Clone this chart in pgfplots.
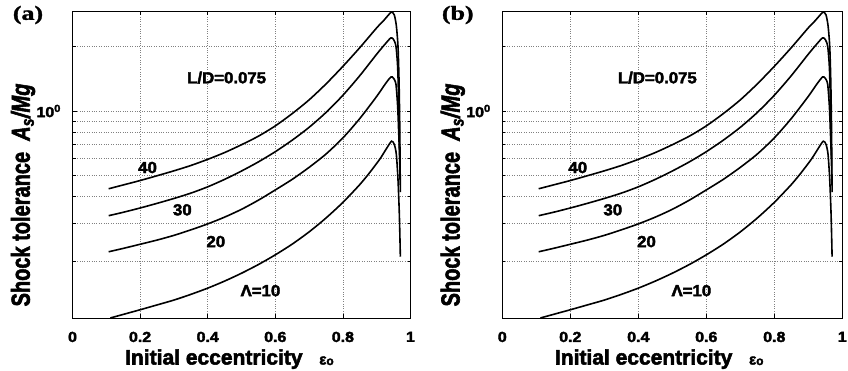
\documentclass[border=0pt]{standalone}
\usepackage{fontspec}
\setmainfont{Liberation Sans}
\newfontfamily\hv{Liberation Sans Bold}[FakeBold=2.5]
\newfontfamily\hvi{Liberation Sans Bold Italic}[FakeBold=2.5]
\newfontfamily\serifb{Liberation Serif Bold}[FakeBold=1.2]
\usepackage{graphicx}
\usepackage{pgfplots}
\usepackage{pgfplotstable}
\pgfplotsset{compat=1.18}

\pgfplotstableread{
x y
0.107 0.435
0.15 0.453
0.2 0.475
0.25 0.500
0.3 0.527
0.35 0.558
0.4 0.596
0.45 0.641
0.5 0.697
0.55 0.764
0.6 0.853
0.65 0.973
0.7 1.127
0.75 1.337
0.8 1.614
0.85 1.972
0.9 2.438
0.92 2.63
0.935 2.80
0.944 2.89
0.952 2.80
0.958 2.50
0.963 2.0
0.966 1.4
0.968 0.9
0.970 0.42
}\curveF

\pgfplotstableread{
x y
0.107 0.326
0.15 0.338
0.2 0.354
0.25 0.372
0.3 0.392
0.35 0.415
0.4 0.444
0.45 0.481
0.5 0.526
0.55 0.580
0.6 0.647
0.65 0.732
0.7 0.840
0.75 0.985
0.8 1.184
0.85 1.461
0.9 1.839
0.925 2.05
0.942 2.19
0.950 2.15
0.957 2.0
0.962 1.6
0.965 1.1
0.967 0.75
0.969 0.48
}\curveT

\pgfplotstableread{
x y
0.107 0.2215
0.15 0.2296
0.2 0.240
0.25 0.251
0.3 0.264
0.35 0.280
0.4 0.2985
0.45 0.321
0.5 0.349
0.55 0.385
0.6 0.4295
0.65 0.481
0.7 0.547
0.75 0.631
0.8 0.750
0.85 0.923
0.9 1.17
0.925 1.334
0.942 1.44
0.950 1.42
0.957 1.33
0.962 1.05
0.965 0.80
0.968 0.60
}\curveW

\pgfplotstableread{
x y
0.112 0.1090
0.15 0.1132
0.2 0.119
0.25 0.1253
0.3 0.132
0.35 0.1403
0.4 0.150
0.45 0.1618
0.5 0.176
0.55 0.1932
0.6 0.2143
0.65 0.2404
0.7 0.274
0.75 0.318
0.8 0.376
0.85 0.455
0.88 0.519
0.91 0.600
0.93 0.673
0.944 0.724
0.952 0.70
0.958 0.63
0.963 0.48
0.967 0.33
0.970 0.21
}\curveO

\newcommand{\tl}[1]{\scalebox{1.1}[1]{\fontsize{14.5bp}{14.5bp}\hv #1}}
\newcommand{\cl}[1]{\scalebox{1.05}[1]{\fontsize{16bp}{16bp}\hv #1}}

\pgfplotsset{
  mypanelstyle/.style={
    scale only axis, height=307.3bp,
    anchor=south west,
    xmin=0, xmax=1, ymin=0.1086, ymax=2.92,
    xtick={0,0.2,0.4,0.6,0.8,1},
    xticklabels={\tl{0},\tl{0.2},\tl{0.4},\tl{0.6},\tl{0.8},\tl{1}},
    ytick={1}, yticklabels={\tl{10\textsuperscript{0}}},
    minor ytick={0.2,0.3,0.4,0.5,0.6,0.7,0.8,0.9,2},
    xmajorgrids, ymajorgrids, yminorgrids,
    major grid style={dotted, black!50, line width=0.6bp},
    minor grid style={dotted, black!50, line width=0.6bp},
    tick align=inside, major tick length=4bp, minor tick length=3bp,
    tick style={black, line width=0.5bp},
    axis line style={black, line width=0.9bp},
    xticklabel style={yshift=-10bp},
    yticklabel style={xshift=-8bp},
  }
}

\newcommand{\curves}{%
  \addplot[black, line width=1.6bp, no marks, smooth, tension=0.45] table[x=x,y=y]{\curveF};
  \addplot[black, line width=1.6bp, no marks, smooth, tension=0.45] table[x=x,y=y]{\curveT};
  \addplot[black, line width=1.6bp, no marks, smooth, tension=0.45] table[x=x,y=y]{\curveW};
  \addplot[black, line width=1.6bp, no marks, smooth, tension=0.45] table[x=x,y=y]{\curveO};
  \node at (axis cs:0.456,1.43) {\cl{L/D=0.075}};
  \node at (axis cs:0.222,0.546) {\cl{40}};
  \node at (axis cs:0.325,0.347) {\cl{30}};
  \node at (axis cs:0.424,0.247) {\cl{20}};
  \node at (axis cs:0.556,0.146) {\cl{Λ=10}};
}

\begin{document}
\begin{tikzpicture}
\path[use as bounding box] (0bp,0bp) rectangle (848bp,371bp);

\begin{axis}[ymode=log, mypanelstyle, width=338bp, at={(72.5bp,52.7bp)}]
\curves
\end{axis}

\begin{axis}[ymode=log, mypanelstyle, width=340bp, at={(502.3bp,52.7bp)}]
\curves
\end{axis}

\foreach \dx/\lab in {0/a, 429.8/b} {
  \node at ({28bp+\dx bp},356bp) {\scalebox{1.3}[1]{\fontsize{20bp}{20bp}\serifb (\lab)}};
  \node[rotate=90] at ({23bp+\dx bp},176bp) {\scalebox{1}[1.3]{\fontsize{20bp}{20bp}\hv Shock tolerance\ \ {\hvi A\textsubscript{s}/Mg}}};
  \node[anchor=base west, inner sep=0pt] at ({125bp+\dx bp},6.5bp) {\fontsize{21bp}{21bp}\hv Initial eccentricity};
  \node[anchor=base, inner sep=0pt] at ({326.5bp+\dx bp},6.5bp) {\fontsize{15bp}{15bp}\hv ε\raisebox{-0.5bp}{\fontsize{12bp}{12bp}\hv o}};
}
\end{tikzpicture}
\end{document}
